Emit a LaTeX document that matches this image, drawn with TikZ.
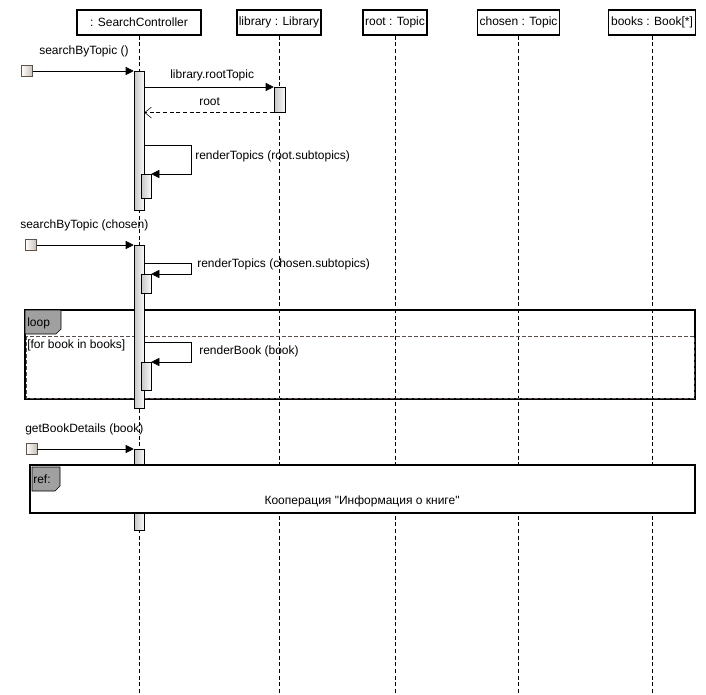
\documentclass[tikz,border=0pt]{standalone}
\usepackage{fontspec}
\setmainfont{Liberation Sans}[Ligatures=TeXOff]
\usetikzlibrary{arrows.meta}
\definecolor{startedge}{HTML}{5E5249}
\definecolor{startfill}{HTML}{C8C0B8}
\definecolor{tagfill}{HTML}{A0A0A0}
\definecolor{opdash}{HTML}{5A4F48}
\tikzset{
  head/.style={draw, thick, minimum height=18.75pt, inner sep=1pt},
  lifeline/.style={dash pattern=on 3pt off 2pt},
  actbar/.style={draw, left color=gray!45, right color=gray!5, minimum width=7.5pt, inner sep=0pt, anchor=north},
  subbar/.style={actbar, minimum width=7.5pt},
  startbox/.style={draw=startedge, left color=white, right color=startfill, minimum size=8pt, inner sep=0pt},
  msg/.style={-{Triangle[length=6pt,width=6pt]}},
  ret/.style={dash pattern=on 3pt off 2pt, -{Straight Barb[length=5pt,width=8pt]}},
  lbl/.style={anchor=west, inner sep=0pt},
  tag/.style={draw, fill=tagfill}
}
\begin{document}
\begin{tikzpicture}[x=0.75pt, y=-0.75pt, font=\fontsize{9}{11}\selectfont]
            \useasboundingbox (0,0) rectangle (706,695);
            % define point
            \coordinate (end) at (0,695);
            \coordinate (turn1) at (191,145);
            \coordinate (turn2) at (191,263);
            \coordinate (turn3) at (191,342);
            % lifelines
            \node[head, minimum width=93pt] (sc) at (139,22.5) {: SearchController};
            \node[head, minimum width=63pt] (lib) at (279,22.5) {library : Library};
            \node[head, minimum width=48pt] (root) at (395,22.5) {root : Topic};
            \node[head, minimum width=62pt] (chosen) at (518.5,22.5) {chosen : Topic};
            \node[head, minimum width=65pt] (books) at (652,22.5) {books : Book[*]};
            \foreach \ll in {sc,lib,root,chosen,books}
              \draw[lifeline] (\ll.south) -- (\ll.south |- end);
            % loop frame
            \draw[thick] (25,310) rectangle (695,399);
            \draw[opdash, dash pattern=on 3pt off 1.5pt] (26,336) rectangle (694,398);
            \draw[tag] (25,310) -- (61,310) -- (61,329) -- (56,334) -- (25,334) -- cycle;
            \node[lbl] (loopname) at (27,323) {loop};
            \node[lbl] (guard) at (27,345) {[for book in books]};
            % activations
            \node[actbar, minimum height={139*0.75pt}] (act1) at (139,71) {};
            \node[actbar, minimum height={25*0.75pt}, minimum width=8.25pt] (lib1) at (279.5,87) {};
            \node[subbar, minimum height={24*0.75pt}] (sub1) at (146,174) {};
            \node[actbar, minimum height={163*0.75pt}] (act2) at (139,245) {};
            \node[subbar, minimum height={19*0.75pt}] (sub2) at (146,274) {};
            \node[subbar, minimum height={28*0.75pt}] (sub3) at (146,362) {};
            \node[actbar, minimum height={81*0.75pt}] (act3) at (139,449) {};
            % found messages
            \node[startbox] (start1) at (27,71) {};
            \node[startbox] (start2) at (31,245) {};
            \node[startbox] (start3) at (31.5,449) {};
            \draw[msg] (start1) -- (act1.north west);
            \draw[msg] (start2) -- (act2.north west);
            \draw[msg] (start3) -- (act3.north west);
            \node[lbl] (m1) at (39,51) {searchByTopic ()};
            \node[lbl] (m4) at (20,225) {searchByTopic (chosen)};
            \node[lbl] (m7) at (25,429) {getBookDetails (book)};
            % calls
            \draw[msg] (act1.east |- lib1.north) -- (lib1.north west);
            \node[lbl] (m2) at (170,75) {library.rootTopic};
            \draw[ret] (lib1.south west) -- (act1.east |- lib1.south);
            \node[lbl] (m3) at (199,102) {root};
            \draw[msg] (act1.east |- turn1) -- (turn1) -- (turn1 |- sub1.north) -- (sub1.north east);
            \node[lbl] (m5) at (195,156) {renderTopics (root.subtopics)};
            \draw[msg] (act2.east |- turn2) -- (turn2) -- (turn2 |- sub2.north) -- (sub2.north east);
            \node[lbl] (m6) at (197,264) {renderTopics (chosen.subtopics)};
            \draw[msg] (act2.east |- turn3) -- (turn3) -- (turn3 |- sub3.north) -- (sub3.north east);
            \node[lbl] (m8) at (199,351) {renderBook (book)};
            % ref frame
            \draw[thick, fill=white] (30,465) rectangle (695,513);
            \draw[tag] (32,467) -- (60,467) -- (60,486) -- (55,491) -- (32,491) -- cycle;
            \node[lbl] (refname) at (33,479) {ref:};
            \node (reftext) at (362,501) {Кооперация "Информация о книге"};
        \end{tikzpicture}
\end{document}
